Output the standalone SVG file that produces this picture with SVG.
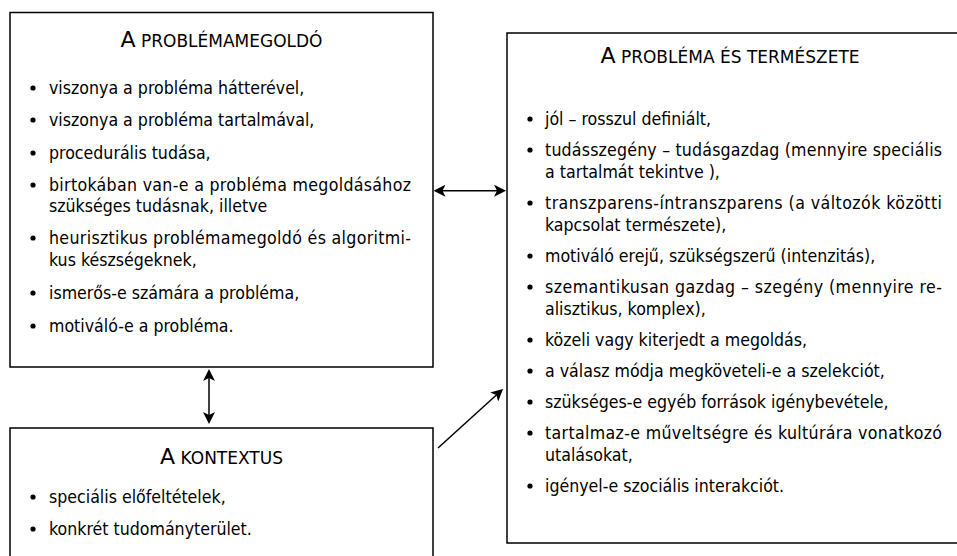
<svg xmlns="http://www.w3.org/2000/svg" width="957" height="556" viewBox="0 0 957 556">
  <style>
    .box { fill: #ffffff; stroke: #000000; stroke-width: 1.5; }
    .t { font-family: 'DejaVu Sans Condensed', 'DejaVu Sans', sans-serif; font-size: 17.6px; fill: #000000; }
    .h { font-family: 'DejaVu Sans', sans-serif; fill: #000000; text-anchor: middle; }
    .big { font-size: 22px; }
    .sc { font-size: 17px; }
    .dot { fill: #000000; }
    .con { stroke: #000000; stroke-width: 1.5; fill: none; }
  </style>
  <defs>
    <marker id="arr" viewBox="0 0 12 12" refX="9" refY="6" markerWidth="12" markerHeight="12" markerUnits="userSpaceOnUse" orient="auto-start-reverse">
      <path d="M0,0 L12,6 L0,12 L3,6 z" fill="#000000"/>
    </marker>
  </defs>
  <rect width="957" height="556" fill="#ffffff"/>

  <g id="problemamegoldo">
    <rect class="box" x="10" y="12.5" width="423" height="354.5"/>
    <text class="h" x="221.5" y="47"><tspan class="big">A</tspan><tspan class="sc"> PROBLÉMAMEGOLDÓ</tspan></text>
    <circle class="dot" cx="33" cy="88" r="2.6"/>
    <text class="t" x="49" y="94">viszonya a probléma hátterével,</text>
    <circle class="dot" cx="33" cy="120" r="2.6"/>
    <text class="t" x="49" y="126">viszonya a probléma tartalmával,</text>
    <circle class="dot" cx="33" cy="153" r="2.6"/>
    <text class="t" x="49" y="159">procedurális tudása,</text>
    <circle class="dot" cx="33" cy="185" r="2.6"/>
    <text class="t" x="49" y="191" textLength="362" lengthAdjust="spacing">birtokában van-e a probléma megoldásához</text>
    <text class="t" x="49" y="212">szükséges tudásnak, illetve</text>
    <circle class="dot" cx="33" cy="238" r="2.6"/>
    <text class="t" x="49" y="244" textLength="362" lengthAdjust="spacing">heurisztikus problémamegoldó és algoritmi-</text>
    <text class="t" x="49" y="266">kus készségeknek,</text>
    <circle class="dot" cx="33" cy="293" r="2.6"/>
    <text class="t" x="49" y="299">ismerős-e számára a probléma,</text>
    <circle class="dot" cx="33" cy="326" r="2.6"/>
    <text class="t" x="49" y="332">motiváló-e a probléma.</text>
  </g>

  <g id="kontextus">
    <rect class="box" x="10" y="428" width="423" height="140"/>
    <text class="h" x="221.5" y="464"><tspan class="big">A</tspan><tspan class="sc"> KONTEXTUS</tspan></text>
    <circle class="dot" cx="33" cy="497" r="2.6"/>
    <text class="t" x="49" y="503">speciális előfeltételek,</text>
    <circle class="dot" cx="33" cy="529" r="2.6"/>
    <text class="t" x="49" y="535">konkrét tudományterület.</text>
  </g>

  <g id="problema">
    <rect class="box" x="507" y="33" width="470" height="510"/>
    <text class="h" x="730" y="63"><tspan class="big">A</tspan><tspan class="sc"> PROBLÉMA ÉS TERMÉSZETE</tspan></text>
    <circle class="dot" cx="530" cy="119" r="2.6"/>
    <text class="t" x="545" y="125">jól – rosszul definiált,</text>
    <circle class="dot" cx="530" cy="150" r="2.6"/>
    <text class="t" x="545" y="156" textLength="397" lengthAdjust="spacing">tudásszegény – tudásgazdag (mennyire speciális</text>
    <text class="t" x="545" y="178">a tartalmát tekintve ),</text>
    <circle class="dot" cx="530" cy="203" r="2.6"/>
    <text class="t" x="545" y="209" textLength="397" lengthAdjust="spacing">transzparens-íntranszparens (a változók közötti</text>
    <text class="t" x="545" y="231">kapcsolat természete),</text>
    <circle class="dot" cx="530" cy="256" r="2.6"/>
    <text class="t" x="545" y="262">motiváló erejű, szükségszerű (intenzitás),</text>
    <circle class="dot" cx="530" cy="287" r="2.6"/>
    <text class="t" x="545" y="293" textLength="397" lengthAdjust="spacing">szemantikusan gazdag – szegény (mennyire re-</text>
    <text class="t" x="545" y="315">alisztikus, komplex),</text>
    <circle class="dot" cx="530" cy="340" r="2.6"/>
    <text class="t" x="545" y="346">közeli vagy kiterjedt a megoldás,</text>
    <circle class="dot" cx="530" cy="371" r="2.6"/>
    <text class="t" x="545" y="377">a válasz módja megköveteli-e a szelekciót,</text>
    <circle class="dot" cx="530" cy="402" r="2.6"/>
    <text class="t" x="545" y="408">szükséges-e egyéb források igénybevétele,</text>
    <circle class="dot" cx="530" cy="433" r="2.6"/>
    <text class="t" x="545" y="439" textLength="397" lengthAdjust="spacing">tartalmaz-e műveltségre és kultúrára vonatkozó</text>
    <text class="t" x="545" y="461">utalásokat,</text>
    <circle class="dot" cx="530" cy="486" r="2.6"/>
    <text class="t" x="545" y="492">igényel-e szociális interakciót.</text>
  </g>

  <g id="connectors">
    <line class="con" x1="436.5" y1="190.7" x2="503" y2="190.7" marker-start="url(#arr)" marker-end="url(#arr)"/>
    <line class="con" x1="209" y1="372" x2="209" y2="421" marker-start="url(#arr)" marker-end="url(#arr)"/>
    <line class="con" x1="438" y1="448" x2="500.8" y2="391" marker-end="url(#arr)"/>
  </g>
</svg>
